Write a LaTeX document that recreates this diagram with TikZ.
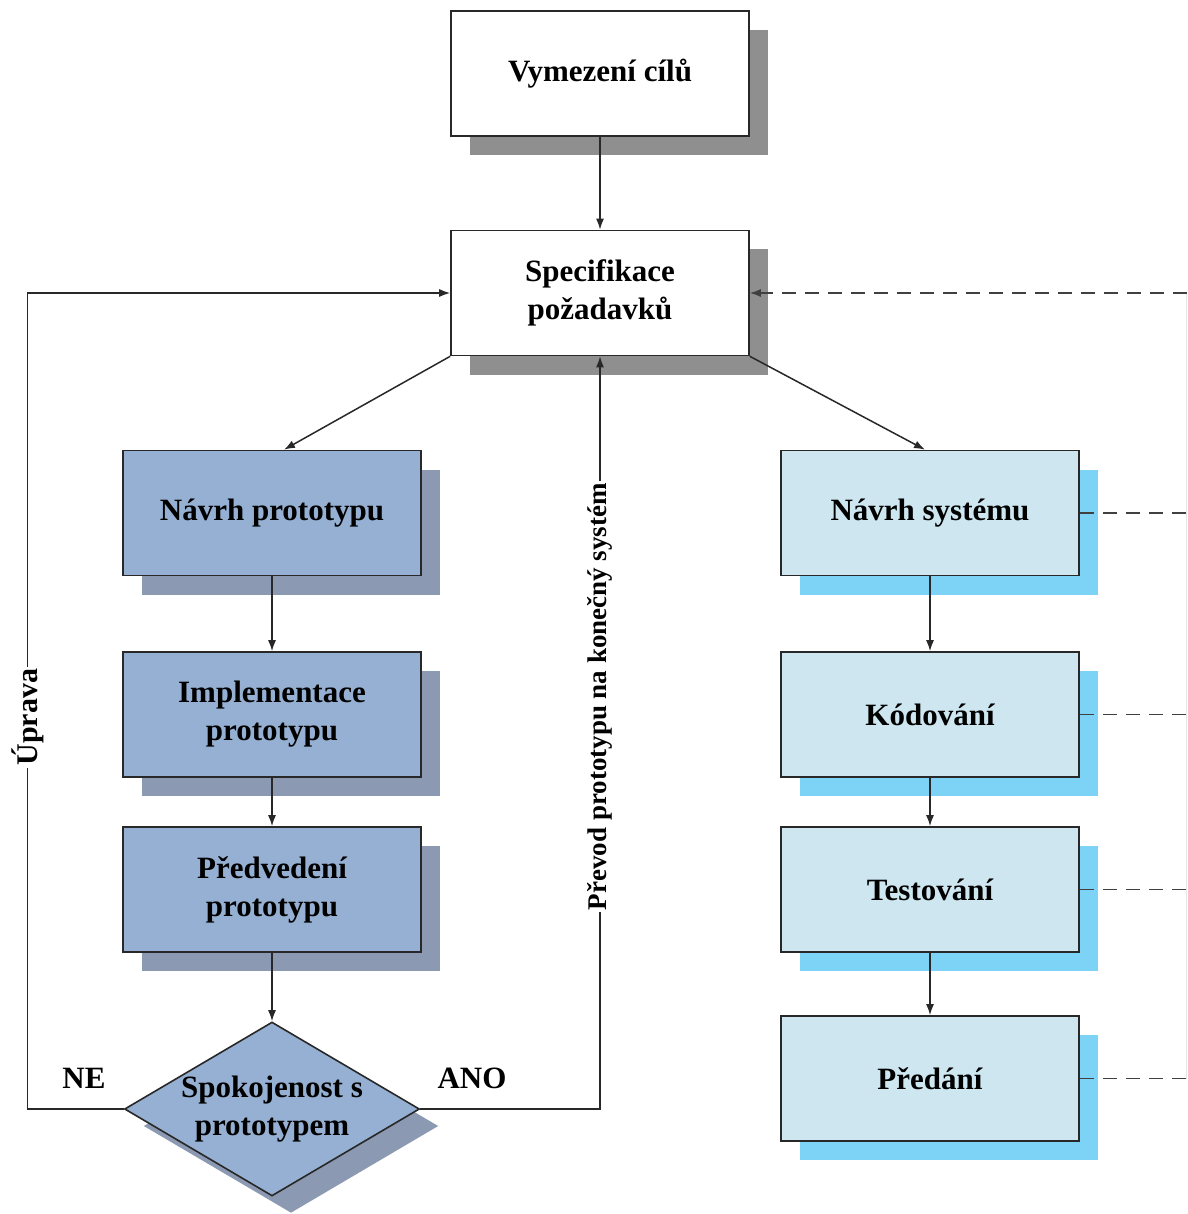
\documentclass[tikz,border=0pt]{standalone}
\usepackage{fontspec}
\setmainfont{Liberation Serif}
\usetikzlibrary{arrows.meta,shapes.geometric,shadows}
\definecolor{grayshadow}{RGB}{143,143,143}
\definecolor{protofill}{RGB}{149,176,210}
\definecolor{protoshadow}{RGB}{139,154,178}
\definecolor{sysfill}{RGB}{205,230,240}
\definecolor{sysshadow}{RGB}{125,211,245}
\definecolor{edgecol}{RGB}{40,40,40}
\begin{document}
\begin{tikzpicture}[x=1pt,y=-1pt,
  txt/.style={font=\fontsize{31}{38}\selectfont\bfseries},
  box/.style={txt, draw=edgecol, line width=1.6pt, minimum width=298pt,
    minimum height=125pt, align=center, inner sep=0pt},
  whitebox/.style={box, fill=white,
    drop shadow={shadow xshift=19pt, shadow yshift=-19pt, fill=grayshadow, opacity=1}},
  protobox/.style={box, fill=protofill,
    drop shadow={shadow xshift=19pt, shadow yshift=-19pt, fill=protoshadow, opacity=1}},
  sysbox/.style={box, fill=sysfill,
    drop shadow={shadow xshift=19pt, shadow yshift=-19pt, fill=sysshadow, opacity=1}},
  decision/.style={diamond, draw=edgecol, line width=1.6pt, fill=protofill,
    minimum width=295pt, minimum height=174pt, inner sep=0pt,
    drop shadow={shadow xshift=19pt, shadow yshift=-17pt, fill=protoshadow, opacity=1}},
  conn/.style={draw=edgecol, line width=1.5pt},
  arr/.style={conn, -{Latex[length=11pt,width=8pt]}},
  dashline/.style={draw=black!75, line width=1.5pt, dash pattern=on 14pt off 9pt},
  dasharr/.style={dashline, -{Latex[length=11pt,width=8pt]}},
  lbl/.style={font=\fontsize{27}{32}\selectfont\bfseries, fill=white, inner sep=2pt}]

\useasboundingbox (0,0) rectangle (1187,1214);

% waterfall side and shared boxes
\node[whitebox] (goal) at (600,73.5) {Vymezení cílů};
\node[whitebox] (spec) at (600,293) {Specifikace\\požadavků};

% prototyping branch
\node[protobox] (np)   at (272,513)   {Návrh prototypu};
\node[protobox] (impl) at (272,714.5) {Implementace\\prototypu};
\node[protobox] (pred) at (272,889.5) {Předvedení\\prototypu};
\node[decision] (dec)  at (272,1109)  {};
\node[txt, align=center] (dectext) at (dec.center) {Spokojenost s\\prototypem};

% system branch
\node[sysbox] (ns)   at (930,513)    {Návrh systému};
\node[sysbox] (kod)  at (930,714.5)  {Kódování};
\node[sysbox] (test) at (930,889.5)  {Testování};
\node[sysbox] (hand) at (930,1078.5) {Předání};

% free ends of the feedback lines on the right margin
\coordinate (fb0) at (1187,293);
\coordinate (fb1) at (1187,513);
\coordinate (fb2) at (1187,714.5);
\coordinate (fb3) at (1187,889.5);
\coordinate (fb4) at (1187,1078.5);

% main flow
\draw[arr] (goal) -- (spec);
\draw[arr] (spec.south west) -- ([xshift=12pt]np.north);
\draw[arr] (spec.south east) -- ([xshift=-5pt]ns.north);
\draw[arr] (np) -- (impl);
\draw[arr] (impl) -- (pred);
\draw[arr] (pred) -- (dec);
\draw[arr] (ns) -- (kod);
\draw[arr] (kod) -- (test);
\draw[arr] (test) -- (hand);

% decision outcomes
\draw[arr] (dec.west) -- ++(-96,0) |- node[lbl, font=\fontsize{30}{34}\selectfont\bfseries, rotate=90, pos=0.24] {Úprava} (spec.west);
\draw[arr] (dec.east) -| node[lbl, rotate=90, pos=0.774] {Převod prototypu na konečný systém} (spec.south);
\node[txt] (ne)  at (84,1078)  {NE};
\node[txt] (ano) at (472,1078) {ANO};

% feedback to the requirements
\draw[black!10, line width=1pt] (1186,293) -- (1186,1078.5);
\draw[dasharr] (fb0) -- (spec.east);
\draw[dashline] (ns.east) -- (fb1);
\draw[dashline] (kod.east) -- (fb2);
\draw[dashline] (test.east) -- (fb3);
\draw[dashline] (hand.east) -- (fb4);
\end{tikzpicture}
\end{document}
